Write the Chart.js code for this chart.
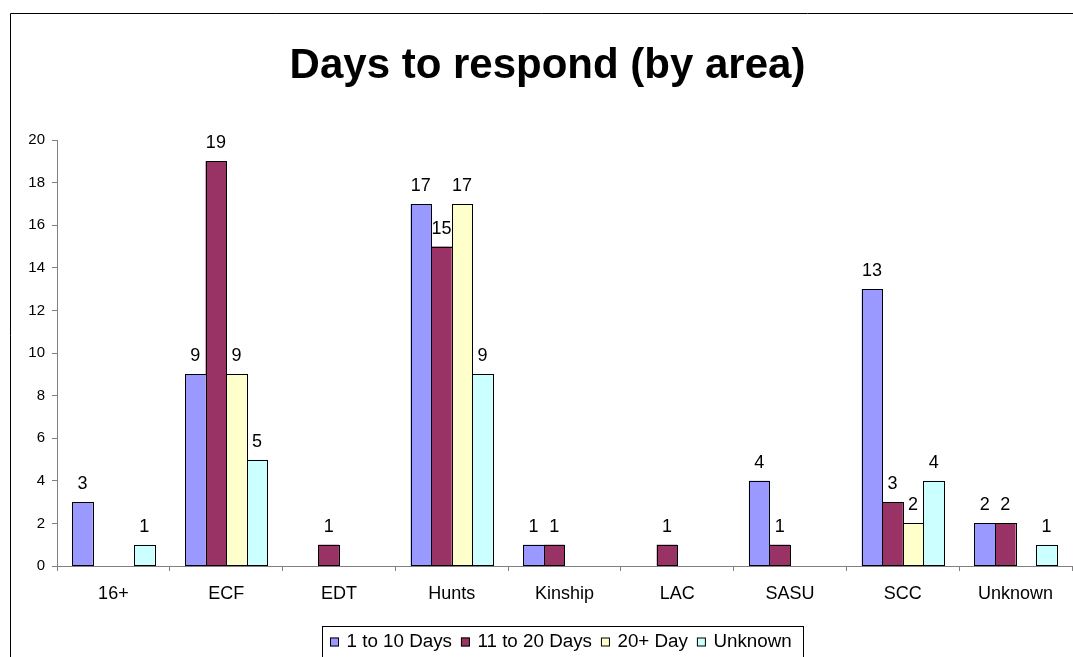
<!DOCTYPE html>
<html>
<head>
<meta charset="utf-8">
<script src="https://cdn.jsdelivr.net/npm/chart.js@4/dist/chart.umd.min.js"></script>
<style>
  html, body { margin: 0; padding: 0; background: #fff; overflow: hidden; }
  canvas { display: block; }
</style>
</head>
<body>
<canvas id="chart" width="1073" height="657"></canvas>
<script>
// Responses per area, grouped by how many days they took
const areas = ['16+', 'ECF', 'EDT', 'Hunts', 'Kinship', 'LAC', 'SASU', 'SCC', 'Unknown'];
const days1to10   = [3, 9, 0, 17, 1, 0, 4, 13, 2];
const days11to20  = [0, 19, 1, 15, 1, 1, 1, 3, 2];
const days20plus  = [0, 9, 0, 17, 0, 0, 0, 2, 0];
const daysUnknown = [1, 5, 0, 9, 0, 0, 0, 4, 1];
const seriesNames = ['1 to 10 Days', '11 to 20 Days', '20+ Day', 'Unknown'];
const seriesColors = ['#9999FF', '#993366', '#FFFFCC', '#CCFFFF'];
const yMin = 0, yMax = 20, yStep = 2;
const chartTitle = 'Days to respond (by area)';

const FONT = '"Liberation Sans", Arial, Helvetica, sans-serif';
const AXIS_GREY = '#808080';

const seriesValues = [days1to10, days11to20, days20plus, daysUnknown];

// Outer frame, title, value labels and boxed legend
const decorations = {
  id: 'decorations',
  beforeDraw(chart) {
    const ctx = chart.ctx;
    ctx.save();
    ctx.strokeStyle = '#000';
    ctx.lineWidth = 1;
    ctx.beginPath();
    ctx.moveTo(10.5, chart.height);
    ctx.lineTo(10.5, 13.5);
    ctx.lineTo(chart.width, 13.5);
    ctx.stroke();

    ctx.fillStyle = '#000';
    ctx.font = 'bold 42px ' + FONT;
    ctx.textAlign = 'center';
    ctx.textBaseline = 'alphabetic';
    ctx.fillText(chartTitle, 547.5, 78);
    ctx.restore();
  },
  afterDatasetsDraw(chart) {
    const ctx = chart.ctx;
    ctx.save();
    // crisp outline around every non-empty bar
    ctx.strokeStyle = '#000';
    ctx.lineWidth = 1;
    chart.data.datasets.forEach((ds, i) => {
      chart.getDatasetMeta(i).data.forEach((bar, j) => {
        if (!(ds.data[j] > 0)) return;
        const l = Math.round(bar.x - bar.width / 2) + 0.5;
        const r = Math.round(bar.x + bar.width / 2) + 0.5;
        const t = Math.round(bar.y) + 0.5;
        const b = Math.round(bar.base) - 0.5;
        ctx.strokeRect(l, t, r - l, b - t);
      });
    });

    ctx.fillStyle = '#000';
    ctx.font = '18px ' + FONT;
    ctx.textAlign = 'center';
    ctx.textBaseline = 'alphabetic';
    chart.data.datasets.forEach((ds, i) => {
      chart.getDatasetMeta(i).data.forEach((bar, j) => {
        const v = ds.data[j];
        if (v > 0) ctx.fillText(String(v), bar.x, bar.y - 13);
      });
    });
    ctx.restore();
  },
  afterDraw(chart) {
    const ctx = chart.ctx;
    ctx.save();
    ctx.strokeStyle = '#000';
    ctx.lineWidth = 1;
    ctx.strokeRect(322.5, 626.5, 481, 60);

    ctx.font = '18.8px ' + FONT;
    ctx.textBaseline = 'middle';
    ctx.textAlign = 'left';
    const cy = 642;
    let x = 330;
    seriesNames.forEach((name, i) => {
      ctx.fillStyle = seriesColors[i];
      ctx.fillRect(x, cy - 4.5, 9, 9);
      ctx.strokeStyle = '#000';
      ctx.strokeRect(x + 0.5, cy - 4.5 + 0.5, 8, 8);
      ctx.fillStyle = '#000';
      const tx = x + 16.5;
      ctx.fillText(name, tx, cy);
      x = tx + ctx.measureText(name).width + 9;
    });
    ctx.restore();
  }
};

new Chart(document.getElementById('chart'), {
  type: 'bar',
  data: {
    labels: areas,
    datasets: seriesNames.map((name, i) => ({
      label: name,
      data: seriesValues[i],
      backgroundColor: seriesColors[i],
      borderWidth: 0,
      categoryPercentage: 0.73,
      barPercentage: 1.0
    }))
  },
  options: {
    responsive: false,
    animation: false,
    events: [],
    layout: { padding: { top: 140, left: 10, right: 1, bottom: 0 } },
    plugins: {
      legend: { display: false },
      title: { display: false },
      tooltip: { enabled: false }
    },
    scales: {
      x: {
        offset: true,
        grid: {
          offset: true,
          drawOnChartArea: false,
          drawTicks: true,
          tickLength: 5,
          color: AXIS_GREY
        },
        border: { color: AXIS_GREY, width: 1 },
        ticks: {
          color: '#000',
          font: { family: FONT, size: 18 },
          padding: 12,
          maxRotation: 0,
          autoSkip: false
        },
        afterFit(scale) { scale.height = 91; }
      },
      y: {
        min: yMin,
        max: yMax,
        grid: {
          drawOnChartArea: false,
          drawTicks: true,
          tickLength: 5,
          color: AXIS_GREY
        },
        border: { color: AXIS_GREY, width: 1 },
        ticks: {
          stepSize: yStep,
          color: '#000',
          font: { family: FONT, size: 15 },
          padding: 7
        },
        afterFit(scale) { scale.width = 47; }
      }
    }
  },
  plugins: [decorations]
});
</script>
</body>
</html>
